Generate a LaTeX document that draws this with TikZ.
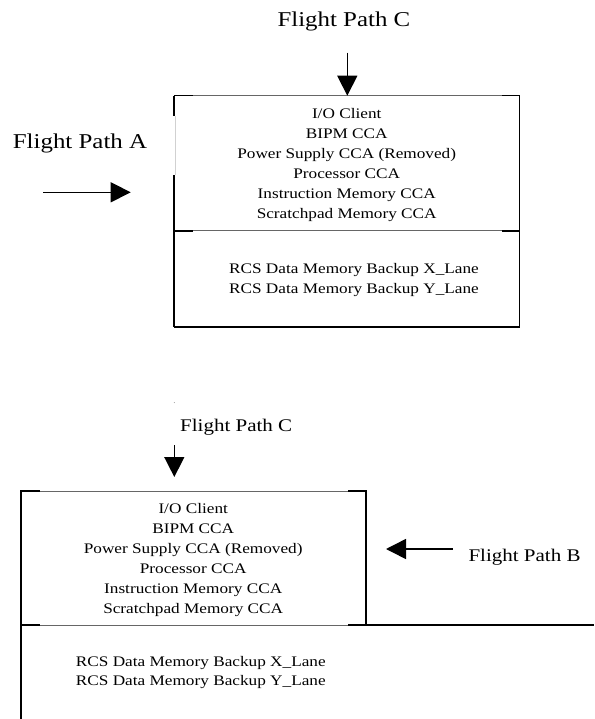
\documentclass[tikz,border=0pt]{standalone}
\usepackage{fontspec}
\setmainfont{Liberation Serif}
\newfontfamily\wideserif[FakeStretch=1.18]{Liberation Serif}
\usetikzlibrary{arrows.meta}

\tikzset{
  heavy/.style={line width=1.6pt, draw=black},
  light/.style={line width=0.8pt, draw=black!60},
  faint/.style={line width=0.8pt, draw=black!18},
  flow/.style={line width=1.5pt, -{Triangle[length=20pt,width=20pt]}},
  % multi-line lists are placed by the baseline of their last line
  partlist/.style={inner sep=0pt, align=center, anchor=base,
    font=\wideserif\fontsize{14.6}{20}\selectfont},
  lanelist/.style={inner sep=0pt, align=center, anchor=base,
    font=\wideserif\fontsize{14.6}{19.5}\selectfont},
  biglabel/.style={inner sep=0pt, anchor=base west,
    font=\wideserif\fontsize{21.1}{24}\selectfont},
  smalllabel/.style={inner sep=0pt, anchor=base west,
    font=\wideserif\fontsize{17.8}{21}\selectfont},
}

\begin{document}
\begin{tikzpicture}[x=1pt, y=-1pt]
  \fill[white] (0,0) rectangle (594,719);
  \useasboundingbox (0,0) rectangle (594,719);

  % ---------- upper unit, paths A and C ----------
  \coordinate (aTL) at (174,95.7);
  \coordinate (aTR) at (519.5,95.7);
  \coordinate (aML) at (174,230.7);
  \coordinate (aMR) at (519.5,230.7);
  \coordinate (aBL) at (174,326.7);
  \coordinate (aBR) at (519.5,326.7);

  % frame
  \draw[heavy] (aTL) -- ++(19,0);
  \draw[light] ([xshift=19pt]aTL) -- ([xshift=-17.5pt]aTR);
  \draw[heavy] ([xshift=-17.5pt]aTR) -- (aTR) -- (aBR) -- (aBL);
  \draw[heavy] (aBL) -- (174,175);
  \draw[faint] (175.5,175) -- (175.5,116);
  \draw[heavy] (174,116) -- (aTL);
  % divider between the two sections
  \draw[heavy] (aML) -- ++(19,0);
  \draw[light] ([xshift=19pt]aML) -- ([xshift=-17.5pt]aMR);
  \draw[heavy] ([xshift=-17.5pt]aMR) -- (aMR);

  \node[partlist] (partsA) at (346.7,218.5)
    {I/O Client\\BIPM CCA\\Power Supply CCA (Removed)\\Processor CCA\\Instruction Memory CCA\\Scratchpad Memory CCA};
  \node[lanelist] (lanesA) at (354,293.3)
    {RCS Data Memory Backup X\_Lane\\RCS Data Memory Backup Y\_Lane};

  \node[biglabel] (pathCtop) at (277.3,26.7) {Flight Path C};
  \node[biglabel] (pathA) at (12.7,148.3) {Flight Path A};

  \coordinate (cTopTail) at (347.3,52.7);
  \coordinate (cTopTip) at (347.3,95.7);
  \draw[flow] (cTopTail) -- (cTopTip);

  \coordinate (aTail) at (43.3,192.3);
  \coordinate (aTip) at (130.7,192.3);
  \draw[flow] (aTail) -- (aTip);

  % ---------- lower unit, paths B and C ----------
  \coordinate (bTL) at (20.7,491);
  \coordinate (bTR) at (365.7,491);
  \coordinate (bML) at (20.7,625);
  \coordinate (bMR) at (365.7,625);
  \coordinate (bBL) at (20.7,719);
  \coordinate (bEnd) at (594,625);

  \draw[heavy] (bBL) -- (bTL) -- ++(19.3,0);
  \draw[light] (40,491) -- (348,491);
  \draw[heavy] (348,491) -- (bTR) -- (bMR);
  \draw[heavy] (bML) -- ++(19.3,0);
  \draw[light] (40,625) -- (348,625);
  \draw[heavy] (348,625) -- (bEnd);

  \node[partlist] (partsB) at (193.2,613.3)
    {I/O Client\\BIPM CCA\\Power Supply CCA (Removed)\\Processor CCA\\Instruction Memory CCA\\Scratchpad Memory CCA};
  \node[lanelist] (lanesB) at (200.8,685.5)
    {RCS Data Memory Backup X\_Lane\\RCS Data Memory Backup Y\_Lane};

  \node[inner sep=0pt, font=\fontsize{6}{7}\selectfont] (dot) at (174.3,403.5) {.};
  \node[smalllabel] (pathCbot) at (180,431.7) {Flight Path C};
  \node[smalllabel] (pathB) at (468.3,561.7) {Flight Path B};

  \coordinate (cBotTail) at (174.3,445);
  \coordinate (cBotTip) at (174.3,477);
  \draw[flow] (cBotTail) -- (cBotTip);

  \coordinate (bTail) at (452.7,549);
  \coordinate (bTip) at (386,549);
  \draw[flow] (bTail) -- (bTip);
\end{tikzpicture}
\end{document}
